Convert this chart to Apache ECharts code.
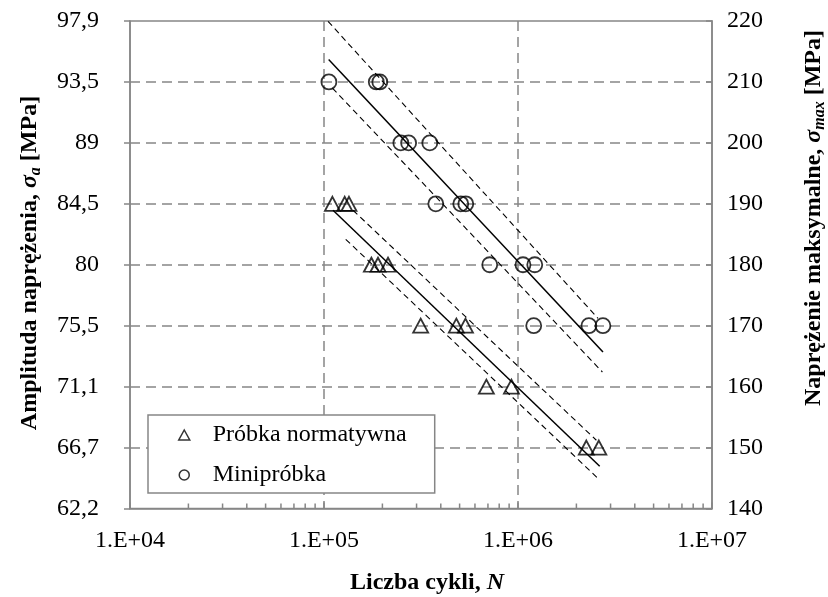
<!DOCTYPE html>
<html><head><meta charset="utf-8">
<script src="https://cdn.jsdelivr.net/npm/echarts@6/dist/echarts.min.js"></script>
<style>html,body{margin:0;padding:0;background:#fff;} #c{width:828px;height:597px;}</style>
</head><body><div id="c"></div>
<script>
// ---- data ----
const xTickLabels = ['1.E+04', '1.E+05', '1.E+06', '1.E+07'];
const leftTickLabels = ['62,2', '66,7', '71,1', '75,5', '80', '84,5', '89', '93,5', '97,9'];
const rightTickLabels = ['140', '150', '160', '170', '180', '190', '200', '210', '220'];
const minorTickN = [2e4, 3e4, 4e4, 5e4, 6e4, 7e4, 8e4, 9e4,
                    2e5, 3e5, 4e5, 5e5, 6e5, 7e5, 8e5, 9e5,
                    2e6, 3e6, 4e6, 5e6, 6e6, 7e6, 8e6, 9e6];

const seriesNames = ['Próbka normatywna', 'Minipróbka'];

const normN = [1.105e5, 1.279e5, 1.345e5, 1.755e5, 1.898e5, 2.138e5, 3.15e5, 4.81e5, 5.36e5, 6.87e5, 9.25e5, 2.25e6, 2.61e6];
const normS = [190, 190, 190, 180, 180, 180, 170, 170, 170, 160, 160, 150, 150];
const miniN = [1.06e5, 1.86e5, 1.94e5, 2.49e5, 2.73e5, 3.51e5, 3.77e5, 5.07e5, 5.38e5, 7.15e5, 1.061e6, 1.22e6, 1.205e6, 2.32e6, 2.74e6];
const miniS = [210, 210, 210, 200, 200, 200, 190, 190, 190, 180, 180, 180, 170, 170, 170];

const normFitN = [1.113e5, 2.637e6], normFitS = [188.94, 146.94];
const normUpN = [1.411e5, 2.535e6], normUpS = [188.94, 151.2];
const normLoN = [1.294e5, 2.554e6], normLoS = [184.18, 145.1];
const miniFitN = [1.057e5, 2.742e6], miniFitS = [213.7, 165.7];
const miniUpN = [1.049e5, 2.585e6], miniUpS = [219.95, 171.2];
const miniLoN = [1.105e5, 2.723e6], miniLoS = [209.0, 162.4];

// ---- chart ----
const FONT = '"Liberation Serif","Times New Roman",serif';
const GRAY = '#868686';
const FS = 24;
const pairs = (xs, ys) => xs.map((x, i) => [x, ys[i]]);

const chart = echarts.init(document.getElementById('c'), null, {renderer: 'canvas'});

function fitLine(xs, ys, dashed) {
  return {
    type: 'line', yAxisIndex: 1, data: pairs(xs, ys), showSymbol: false, symbol: 'none',
    silent: true, z: 3,
    lineStyle: dashed ? {color: '#000', width: 1.1, type: [6, 4]} : {color: '#000', width: 1.5, type: 'solid'}
  };
}

const titleRich = {
  b: {fontFamily: FONT, fontSize: FS, fontWeight: 'bold', fill: '#000'},
  i: {fontFamily: FONT, fontSize: FS, fontWeight: 'bold', fontStyle: 'italic', fill: '#000'},
  s: {fontFamily: FONT, fontSize: 16, fontWeight: 'bold', fontStyle: 'italic', fill: '#000', padding: [12, 0, 0, 0]}
};

const option = {
  animation: false,
  backgroundColor: '#fff',
  grid: {left: 130, right: 116, top: 21, bottom: 88.5, show: true, borderColor: GRAY, borderWidth: 1.5, backgroundColor: 'transparent'},
  xAxis: {
    type: 'log', logBase: 10, min: 1e4, max: 1e7,
    axisLine: {show: true, lineStyle: {color: GRAY, width: 1.5}},
    axisTick: {show: true, inside: true, length: 6, lineStyle: {color: GRAY, width: 1.5}},
    minorTick: {show: false},
    axisLabel: {margin: 20, color: '#000', fontFamily: FONT, fontSize: FS,
      formatter: v => xTickLabels[Math.round(Math.log10(v)) - 4]},
    splitLine: {show: true, showMinLine: false, showMaxLine: false, lineStyle: {color: GRAY, type: [10, 6], width: 1.5}}
  },
  yAxis: [
    {
      type: 'value', position: 'left', min: 140, max: 220, interval: 10,
      axisLine: {show: true, lineStyle: {color: GRAY, width: 1.5}},
      axisTick: {show: true, inside: false, length: 6, lineStyle: {color: GRAY, width: 1.5}},
      axisLabel: {margin: 31, color: '#000', fontFamily: FONT, fontSize: FS,
        formatter: v => leftTickLabels[Math.round((v - 140) / 10)]},
      splitLine: {show: true, showMinLine: false, showMaxLine: false, lineStyle: {color: GRAY, type: [10, 6], width: 1.5}}
    },
    {
      type: 'value', position: 'right', min: 140, max: 220, interval: 10,
      axisLine: {show: true, lineStyle: {color: GRAY, width: 1.5}},
      axisTick: {show: true, inside: true, length: 6, lineStyle: {color: GRAY, width: 1.5}},
      axisLabel: {margin: 15, color: '#000', fontFamily: FONT, fontSize: FS,
        formatter: v => rightTickLabels[Math.round((v - 140) / 10)]},
      splitLine: {show: false}
    }
  ],
  legend: {
    left: 148, top: 415, orient: 'vertical',
    padding: [8, 28, 6, 30], itemGap: 16, itemWidth: 11, itemHeight: 10,
    borderColor: GRAY, borderWidth: 1.5, borderRadius: 0, backgroundColor: '#fff',
    selectedMode: false, z: 10,
    textStyle: {fontFamily: FONT, fontSize: FS, color: '#000', padding: [0, 0, 0, 18]},
    itemStyle: {color: 'rgba(0,0,0,0)', borderColor: '#000', borderWidth: 1.5},
    data: [{name: seriesNames[0], icon: 'triangle'}, {name: seriesNames[1], icon: 'circle'}]
  },
  series: [
    fitLine(normFitN, normFitS, false),
    fitLine(normUpN, normUpS, true),
    fitLine(normLoN, normLoS, true),
    fitLine(miniFitN, miniFitS, false),
    fitLine(miniUpN, miniUpS, true),
    fitLine(miniLoN, miniLoS, true),
    {
      name: seriesNames[0], type: 'scatter', yAxisIndex: 1, data: pairs(normN, normS),
      symbol: 'triangle', symbolSize: [15, 14], z: 4,
      itemStyle: {color: 'rgba(0,0,0,0)', borderColor: '#000', borderWidth: 1.8}
    },
    {
      name: seriesNames[1], type: 'scatter', yAxisIndex: 1, data: pairs(miniN, miniS),
      symbol: 'circle', symbolSize: 15, z: 4,
      itemStyle: {color: 'rgba(0,0,0,0)', borderColor: '#000', borderWidth: 1.8}
    },
    {
      type: 'custom', yAxisIndex: 1, silent: true, z: 2,
      data: minorTickN.map(n => [n, 140]),
      renderItem: (params, api) => {
        const p = api.coord([api.value(0), api.value(1)]);
        return {type: 'line', shape: {x1: p[0], y1: p[1], x2: p[0], y2: p[1] - 5},
          style: {stroke: GRAY, lineWidth: 1.5}};
      }
    }
  ],
  graphic: [
    {type: 'text', x: 30, y: 263, rotation: Math.PI / 2,
      style: {text: '{b|Amplituda naprężenia, }{i|σ}{s|a}{b| [MPa]}', align: 'center', verticalAlign: 'middle', rich: titleRich}},
    {type: 'text', x: 814, y: 218, rotation: Math.PI / 2,
      style: {text: '{b|Naprężenie maksymalne, }{i|σ}{s|max}{b| [MPa]}', align: 'center', verticalAlign: 'middle', rich: titleRich}},
    {type: 'text', x: 427, y: 583,
      style: {text: '{b|Liczba cykli, }{i|N}', align: 'center', verticalAlign: 'middle', rich: titleRich}}
  ]
};
chart.setOption(option);
</script>
</body></html>
